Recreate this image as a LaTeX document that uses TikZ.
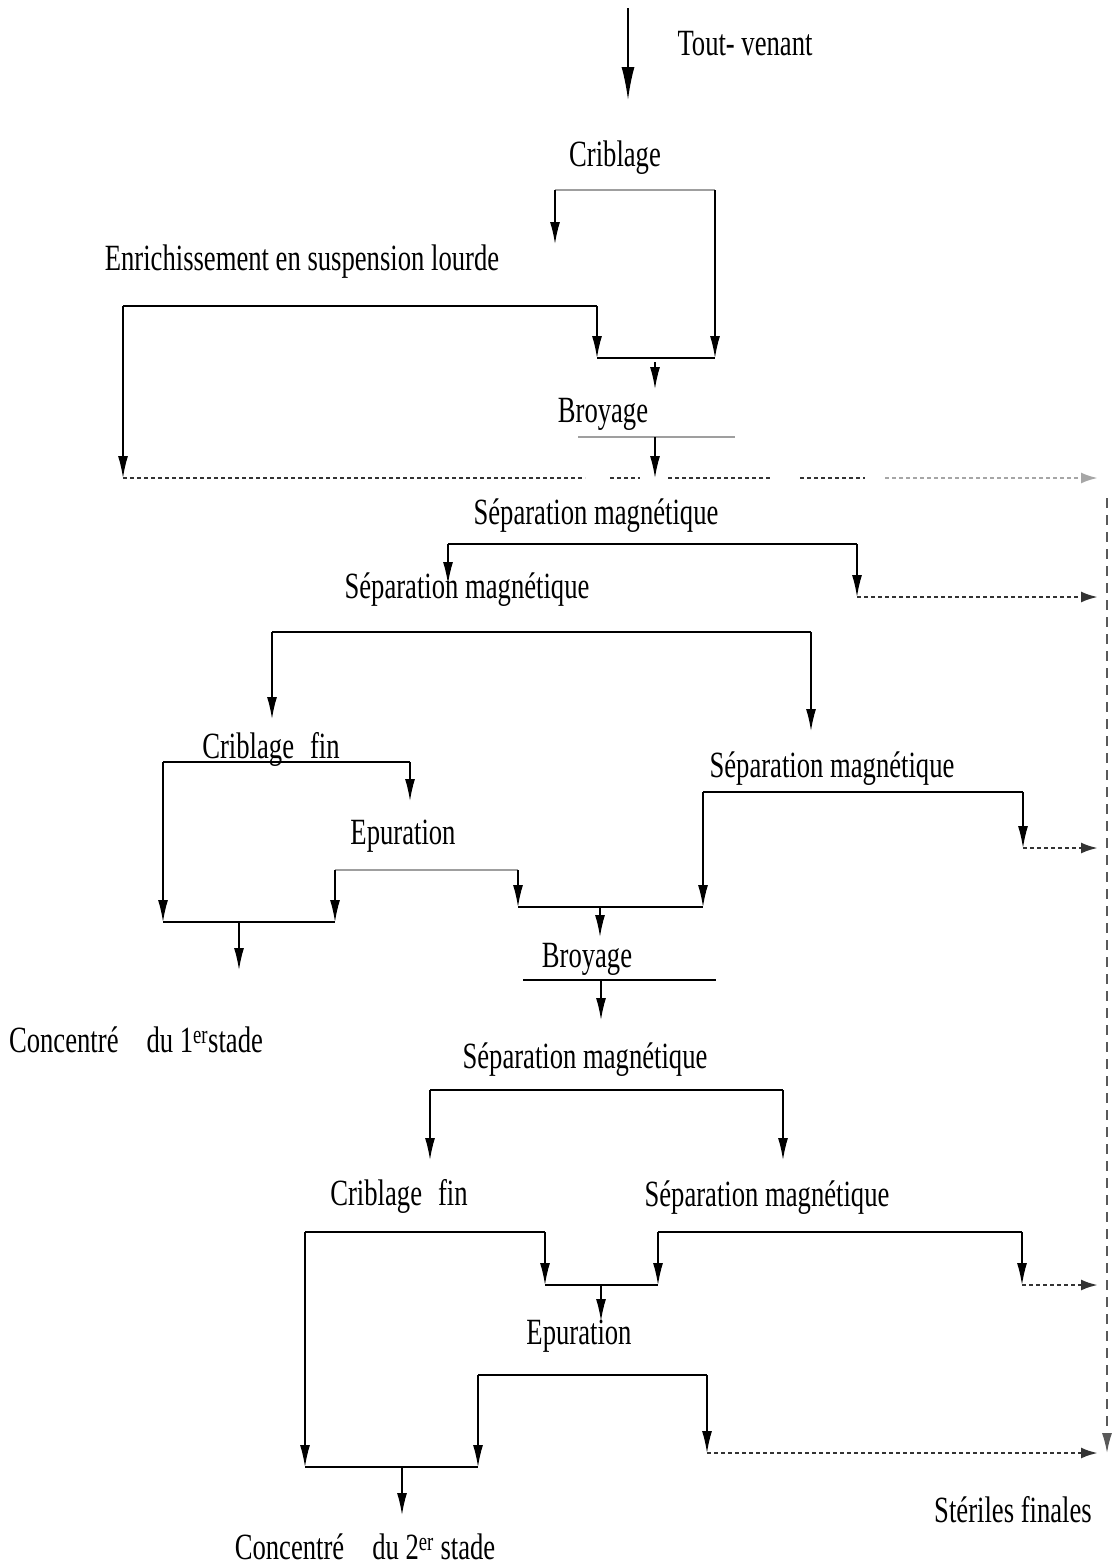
\documentclass[tikz,border=0pt]{standalone}
\usepackage{fontspec}
\setmainfont{Liberation Serif}[FakeStretch=0.72]
\usetikzlibrary{arrows.meta}
\begin{document}
\begin{tikzpicture}[x=1pt,y=-1pt,
  lbl/.style={inner sep=0pt,font=\fontsize{37}{41}\selectfont},
  br/.style={line width=2.6pt},
  brg/.style={line width=2.6pt,draw=gray!75},
  dr/.style={line width=1.5pt,-{Latex[length=22pt,width=10pt]}},
  bigar/.style={line width=1.8pt,-{Latex[length=33pt,width=13pt]}},
  dots/.style={line width=2.6pt,draw=black!80,dash pattern=on 4pt off 3pt},
  dotsar/.style={dots,-{Latex[length=17pt,width=11pt]}},
  vdash/.style={line width=1.6pt,draw=black!65,dash pattern=on 10pt off 7pt,-{Latex[length=20pt,width=10pt]}}]
\useasboundingbox (0,0) rectangle (1118,1567);
\fill[white] (0,0) rectangle (1118,1567);

% labels
\node[lbl] (tv) at (745,44) {Tout- venant};
\node[lbl] (crib) at (615,158) {Criblage};
\node[lbl] (enr) at (302,262) {Enrichissement en suspension lourde};
\node[lbl] (broy1) at (603,414) {Broyage};
\node[lbl] (sm1) at (596,516) {Séparation magnétique};
\node[lbl] (sm2) at (467,590) {Séparation magnétique};
\node[lbl] (cf1) at (271,749) {Criblage\hspace{16pt}fin};
\node[lbl] (sm3) at (832,769) {Séparation magnétique};
\node[lbl] (ep1) at (403,836) {Epuration};
\node[lbl] (conc1) at (136,1040) {Concentré\hspace{28pt}du 1\textsuperscript{er}stade};
\node[lbl] (broy2) at (587,959) {Broyage};
\node[lbl] (sm4) at (585,1060) {Séparation magnétique};
\node[lbl] (cf2) at (399,1196) {Criblage\hspace{16pt}fin};
\node[lbl] (sm5) at (767,1198) {Séparation magnétique};
\node[lbl] (ep2) at (579,1336) {Epuration};
\node[lbl] (conc2) at (365,1547) {Concentré\hspace{28pt}du 2\textsuperscript{er} stade};
\node[lbl] (ster) at (1013,1510) {Stériles finales};

% coordinates
\coordinate (in0) at (628,8);   \coordinate (in1) at (628,100);
\coordinate (a1) at (555,190);  \coordinate (a2) at (715,190);
\coordinate (a1e) at (555,244); \coordinate (a2e) at (715,358);
\coordinate (b1) at (123,306);  \coordinate (b2) at (597,306);
\coordinate (b1e) at (123,478); \coordinate (b2e) at (597,358);
\coordinate (m1s) at (655,362); \coordinate (m1e) at (655,389);
\coordinate (u1a) at (578,437); \coordinate (u1b) at (735,437);
\coordinate (u1m) at (655,437); \coordinate (u1e) at (655,478);
\coordinate (rv0) at (1107,498); \coordinate (rv1) at (1107,1453);
\coordinate (d1) at (448,544);  \coordinate (d2) at (857,544);
\coordinate (d1e) at (448,584); \coordinate (d2e) at (857,597);
\coordinate (e1) at (272,632);  \coordinate (e2) at (811,632);
\coordinate (e1e) at (272,719); \coordinate (e2e) at (811,731);
\coordinate (f1) at (163,762);  \coordinate (f2) at (410,762);
\coordinate (f1e) at (163,922); \coordinate (f2e) at (410,801);
\coordinate (g1) at (335,870);  \coordinate (g2) at (518,870);
\coordinate (g1e) at (335,922); \coordinate (g2e) at (518,907);
\coordinate (cm1) at (239,922); \coordinate (cm1e) at (239,970);
\coordinate (h1) at (703,792);  \coordinate (h2) at (1023,792);
\coordinate (h1e) at (703,907); \coordinate (h2e) at (1023,848);
\coordinate (m2) at (600,907);  \coordinate (m2e) at (600,937);
\coordinate (u2a) at (523,980); \coordinate (u2b) at (716,980);
\coordinate (u2m) at (601,980); \coordinate (u2e) at (601,1020);
\coordinate (i1) at (430,1090); \coordinate (i2) at (783,1090);
\coordinate (i1e) at (430,1160);\coordinate (i2e) at (783,1160);
\coordinate (j1) at (305,1232); \coordinate (j2) at (545,1232);
\coordinate (j1e) at (305,1467);\coordinate (j2e) at (545,1285);
\coordinate (k1) at (658,1232); \coordinate (k2) at (1022,1232);
\coordinate (k1e) at (658,1285);\coordinate (k2e) at (1022,1285);
\coordinate (m3) at (601,1285); \coordinate (m3e) at (601,1321);
\coordinate (l1) at (478,1375); \coordinate (l2) at (707,1375);
\coordinate (l1e) at (478,1467);\coordinate (l2e) at (707,1453);
\coordinate (cm2) at (402,1467);\coordinate (cm2e) at (402,1515);
\coordinate (tx) at (1098,0);

% feed
\draw[bigar] (in0) -- (in1);
% criblage
\draw[brg] (a1) -- (a2);
\draw[dr] (a1) -- (a1e);
\draw[dr] (a2) -- (a2e);
% enrichissement
\draw[br] (b1) -- (b2);
\draw[dr] (b1) -- (b1e);
\draw[dr] (b2) -- (b2e);
\draw[br] (b2e) -- (a2e);
\draw[dr] (m1s) -- (m1e);
% broyage 1
\draw[brg] (u1a) -- (u1b);
\draw[dr] (u1m) -- (u1e);
% dotted line to steriles
\draw[dots] (b1e) -- (585,478);
\draw[dots] (610,478) -- (640,478);
\draw[dots] (668,478) -- (770,478);
\draw[dots] (800,478) -- (865,478);
\draw[dots,draw=gray!70,-{Latex[length=17pt,width=11pt]}] (885,478) -- (b1e -| tx);
\draw[vdash] (rv0) -- (rv1);
% sep mag 1
\draw[br] (d1) -- (d2);
\draw[dr] (d1) -- (d1e);
\draw[dr] (d2) -- (d2e);
\draw[dotsar] (d2e) -- (d2e -| tx);
% sep mag 2
\draw[br] (e1) -- (e2);
\draw[dr] (e1) -- (e1e);
\draw[dr] (e2) -- (e2e);
% criblage fin 1
\draw[br] (f1) -- (f2);
\draw[dr] (f1) -- (f1e);
\draw[dr] (f2) -- (f2e);
% epuration 1
\draw[brg] (g1) -- (g2);
\draw[dr] (g1) -- (g1e);
\draw[dr] (g2) -- (g2e);
\draw[br] (f1e) -- (g1e);
\draw[dr] (cm1) -- (cm1e);
% sep mag 3
\draw[br] (h1) -- (h2);
\draw[dr] (h1) -- (h1e);
\draw[dr] (h2) -- (h2e);
\draw[dotsar] (h2e) -- (h2e -| tx);
\draw[br] (g2e) -- (h1e);
\draw[dr] (m2) -- (m2e);
% broyage 2
\draw[br] (u2a) -- (u2b);
\draw[dr] (u2m) -- (u2e);
% sep mag 4
\draw[br] (i1) -- (i2);
\draw[dr] (i1) -- (i1e);
\draw[dr] (i2) -- (i2e);
% criblage fin 2
\draw[br] (j1) -- (j2);
\draw[dr] (j1) -- (j1e);
\draw[dr] (j2) -- (j2e);
% sep mag 5
\draw[br] (k1) -- (k2);
\draw[dr] (k1) -- (k1e);
\draw[dr] (k2) -- (k2e);
\draw[dotsar] (k2e) -- (k2e -| tx);
\draw[br] (j2e) -- (k1e);
\draw[dr] (m3) -- (m3e);
% epuration 2
\draw[br] (l1) -- (l2);
\draw[dr] (l1) -- (l1e);
\draw[dr] (l2) -- (l2e);
\draw[dotsar] (l2e) -- (l2e -| tx);
\draw[br] (j1e) -- (l1e);
\draw[dr] (cm2) -- (cm2e);
\end{tikzpicture}
\end{document}
